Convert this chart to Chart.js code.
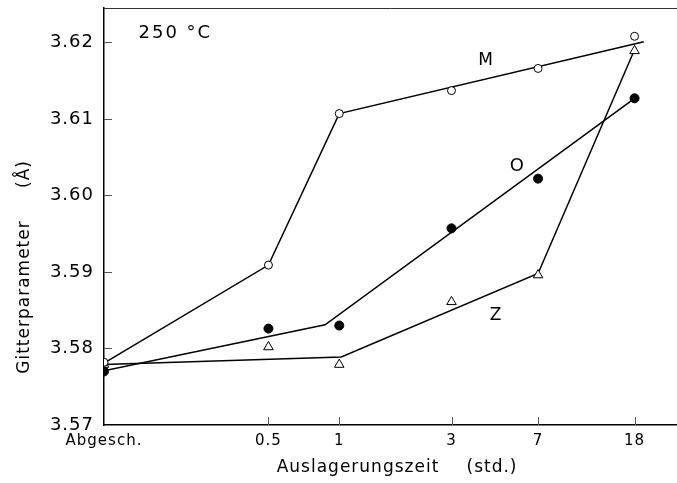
<!DOCTYPE html>
<html>
<head>
<meta charset="utf-8">
<script src="https://cdn.jsdelivr.net/npm/chart.js@4/dist/chart.umd.min.js"></script>
<style>
html,body{margin:0;padding:0;background:#fff;overflow:hidden;}
#wrap{width:677px;height:483px;position:relative;}
</style>
</head>
<body>
<div id="wrap"><canvas id="c" width="677" height="483"></canvas></div>
<script>
// ---- data ----
const timeLabels = ['Abgesch.', '0.5', '1', '3', '7', '18'];
const timeValues = [0.1, 0.5, 1, 3, 7, 18];
const yTicks = [3.57, 3.58, 3.59, 3.60, 3.61, 3.62];

const seriesM = [3.5782, 3.5909, 3.6107, 3.6137, 3.6166, 3.6208];
const seriesO = [3.5770, 3.5826, 3.5830, 3.5957, 3.6022, 3.6127];
const seriesZ = [3.5779, 3.5802, 3.5779, 3.5861, 3.5896, 3.6189];

// hand-drawn fit lines (vertices)
const fitMx = [0.1, 0.5, 1, 19.7];
const fitMy = [3.5781, 3.5909, 3.6107, 3.6201];
const fitOx = [0.1, 0.87, 18];
const fitOy = [3.5771, 3.5831, 3.6127];
const fitZx = [0.1, 1.02, 7, 18.2];
const fitZy = [3.5779, 3.5789, 3.5898, 3.6194];

const FONT = "'DejaVu Sans', sans-serif";

const toXY = (xs, ys) => xs.map((x, i) => ({x: x, y: ys[i]}));

// text annotations in data coordinates
const notes = [
  {text: '250 °C', x: 0.201, y: 3.6212, size: 18, sp: '2px'},
  {text: 'M', x: 4.19, y: 3.6176, size: 17, sp: '0px'},
  {text: 'O', x: 5.68, y: 3.6038, size: 18, sp: '0px'},
  {text: 'Z', x: 4.62, y: 3.5843, size: 17, sp: '0px'}
];

const framePlugin = {
  id: 'frame',
  beforeDraw(chart) {
    chart.ctx.letterSpacing = '1px';
  },
  afterDraw(chart) {
    const {ctx, chartArea: a, scales} = chart;
    ctx.save();
    ctx.strokeStyle = '#333';
    ctx.lineWidth = 1;
    // top line
    ctx.beginPath();
    ctx.moveTo(a.left, a.top + 0.5);
    ctx.lineTo(a.right, a.top + 0.5);
    ctx.stroke();
    // inward ticks x
    ctx.strokeStyle = '#555';
    scales.x.ticks.forEach((t, i) => {
      if (i === 0) return;
      const px = Math.round(scales.x.getPixelForValue(t.value)) + 0.5;
      ctx.beginPath();
      ctx.moveTo(px, a.bottom);
      ctx.lineTo(px, a.bottom - 8);
      ctx.stroke();
    });
    // inward ticks y
    scales.y.ticks.forEach((t, i) => {
      if (i === 0) return;
      const py = Math.round(scales.y.getPixelForValue(t.value)) + 0.5;
      ctx.beginPath();
      ctx.moveTo(a.left, py);
      ctx.lineTo(a.left + 8, py);
      ctx.stroke();
    });
    // annotations
    ctx.fillStyle = '#000';
    ctx.textAlign = 'center';
    ctx.textBaseline = 'middle';
    notes.forEach(n => {
      ctx.font = n.size + 'px ' + FONT;
      ctx.letterSpacing = n.sp;
      ctx.fillText(n.text, scales.x.getPixelForValue(n.x), scales.y.getPixelForValue(n.y));
    });
    // axis titles
    ctx.font = '17px ' + FONT;
    ctx.letterSpacing = '1px';
    ctx.fillText('Auslagerungszeit', 358, 468);
    ctx.fillText('(std.)', 492, 468);
    ctx.save();
    ctx.translate(25, 0);
    ctx.rotate(-Math.PI / 2);
    ctx.fillText('Gitterparameter', -297, 0);
    ctx.fillText('(Å)', -174, 0);
    ctx.restore();
    ctx.restore();
  }
};

const lineStyle = {showLine: true, pointRadius: 0, borderColor: '#000', borderWidth: 1.5, tension: 0, order: 2};

function makeConfig() {
  return {
    type: 'scatter',
    data: {
      datasets: [
        Object.assign({label: 'M fit', data: toXY(fitMx, fitMy)}, lineStyle),
        Object.assign({label: 'O fit', data: toXY(fitOx, fitOy)}, lineStyle),
        Object.assign({label: 'Z fit', data: toXY(fitZx, fitZy)}, lineStyle),
        {label: 'M', data: toXY(timeValues, seriesM), pointStyle: 'circle', pointRadius: 4,
         backgroundColor: '#fff', borderColor: '#000', borderWidth: 1, order: 0},
        {label: 'O', data: toXY(timeValues, seriesO), pointStyle: 'circle', pointRadius: 4.5,
         backgroundColor: '#000', borderColor: '#000', borderWidth: 1, order: 0},
        {label: 'Z', data: toXY(timeValues, seriesZ), pointStyle: 'triangle', pointRadius: 5.5,
         backgroundColor: '#fff', borderColor: '#000', borderWidth: 1, order: 0}
      ]
    },
    options: {
      responsive: false,
      animation: false,
      events: [],
      layout: {padding: {left: 0, right: 0, top: 8, bottom: 0}},
      plugins: {legend: {display: false}, tooltip: {enabled: false}},
      scales: {
        x: {
          type: 'logarithmic',
          min: 0.1,
          max: 27.4,
          afterBuildTicks(scale) { scale.ticks = timeValues.map(v => ({value: v})); },
          afterFit(scale) { scale.height = 58; scale.paddingLeft = 0; scale.paddingRight = 0; },
          ticks: {
            autoSkip: false, maxRotation: 0, padding: 7,
            color: '#000', font: {family: FONT, size: 15},
            callback(v, i) { return timeLabels[i]; }
          },
          grid: {drawOnChartArea: false, drawTicks: false},
          border: {display: true, color: '#000', width: 1.5}
        },
        y: {
          min: 3.57,
          max: 3.6245,
          afterBuildTicks(scale) { scale.ticks = yTicks.map(v => ({value: v})); },
          afterFit(scale) { scale.width = 104; scale.paddingTop = 0; scale.paddingBottom = 0; },
          ticks: {
            padding: 10,
            color: '#000', font: {family: FONT, size: 18},
            callback(v) { return Number(v).toFixed(2); }
          },
          grid: {drawOnChartArea: false, drawTicks: false},
          border: {display: true, color: '#000', width: 1.5}
        }
      }
    },
    plugins: [framePlugin]
  };
}

const canvas = document.getElementById('c');
let chart = new Chart(canvas, makeConfig());
// the library reserves a few pixels on the right; widen the canvas so that the
// plot area reaches the right edge of the 677px window (overflow is clipped)
const extra = Math.round(677 - chart.chartArea.right);
if (extra > 0) {
  chart.destroy();
  const w = 677 + extra;
  document.getElementById('wrap').style.width = w + 'px';
  canvas.width = w;
  canvas.height = 483;
  canvas.style.width = w + 'px';
  canvas.style.height = '483px';
  chart = new Chart(canvas, makeConfig());
}
</script>
</body>
</html>
